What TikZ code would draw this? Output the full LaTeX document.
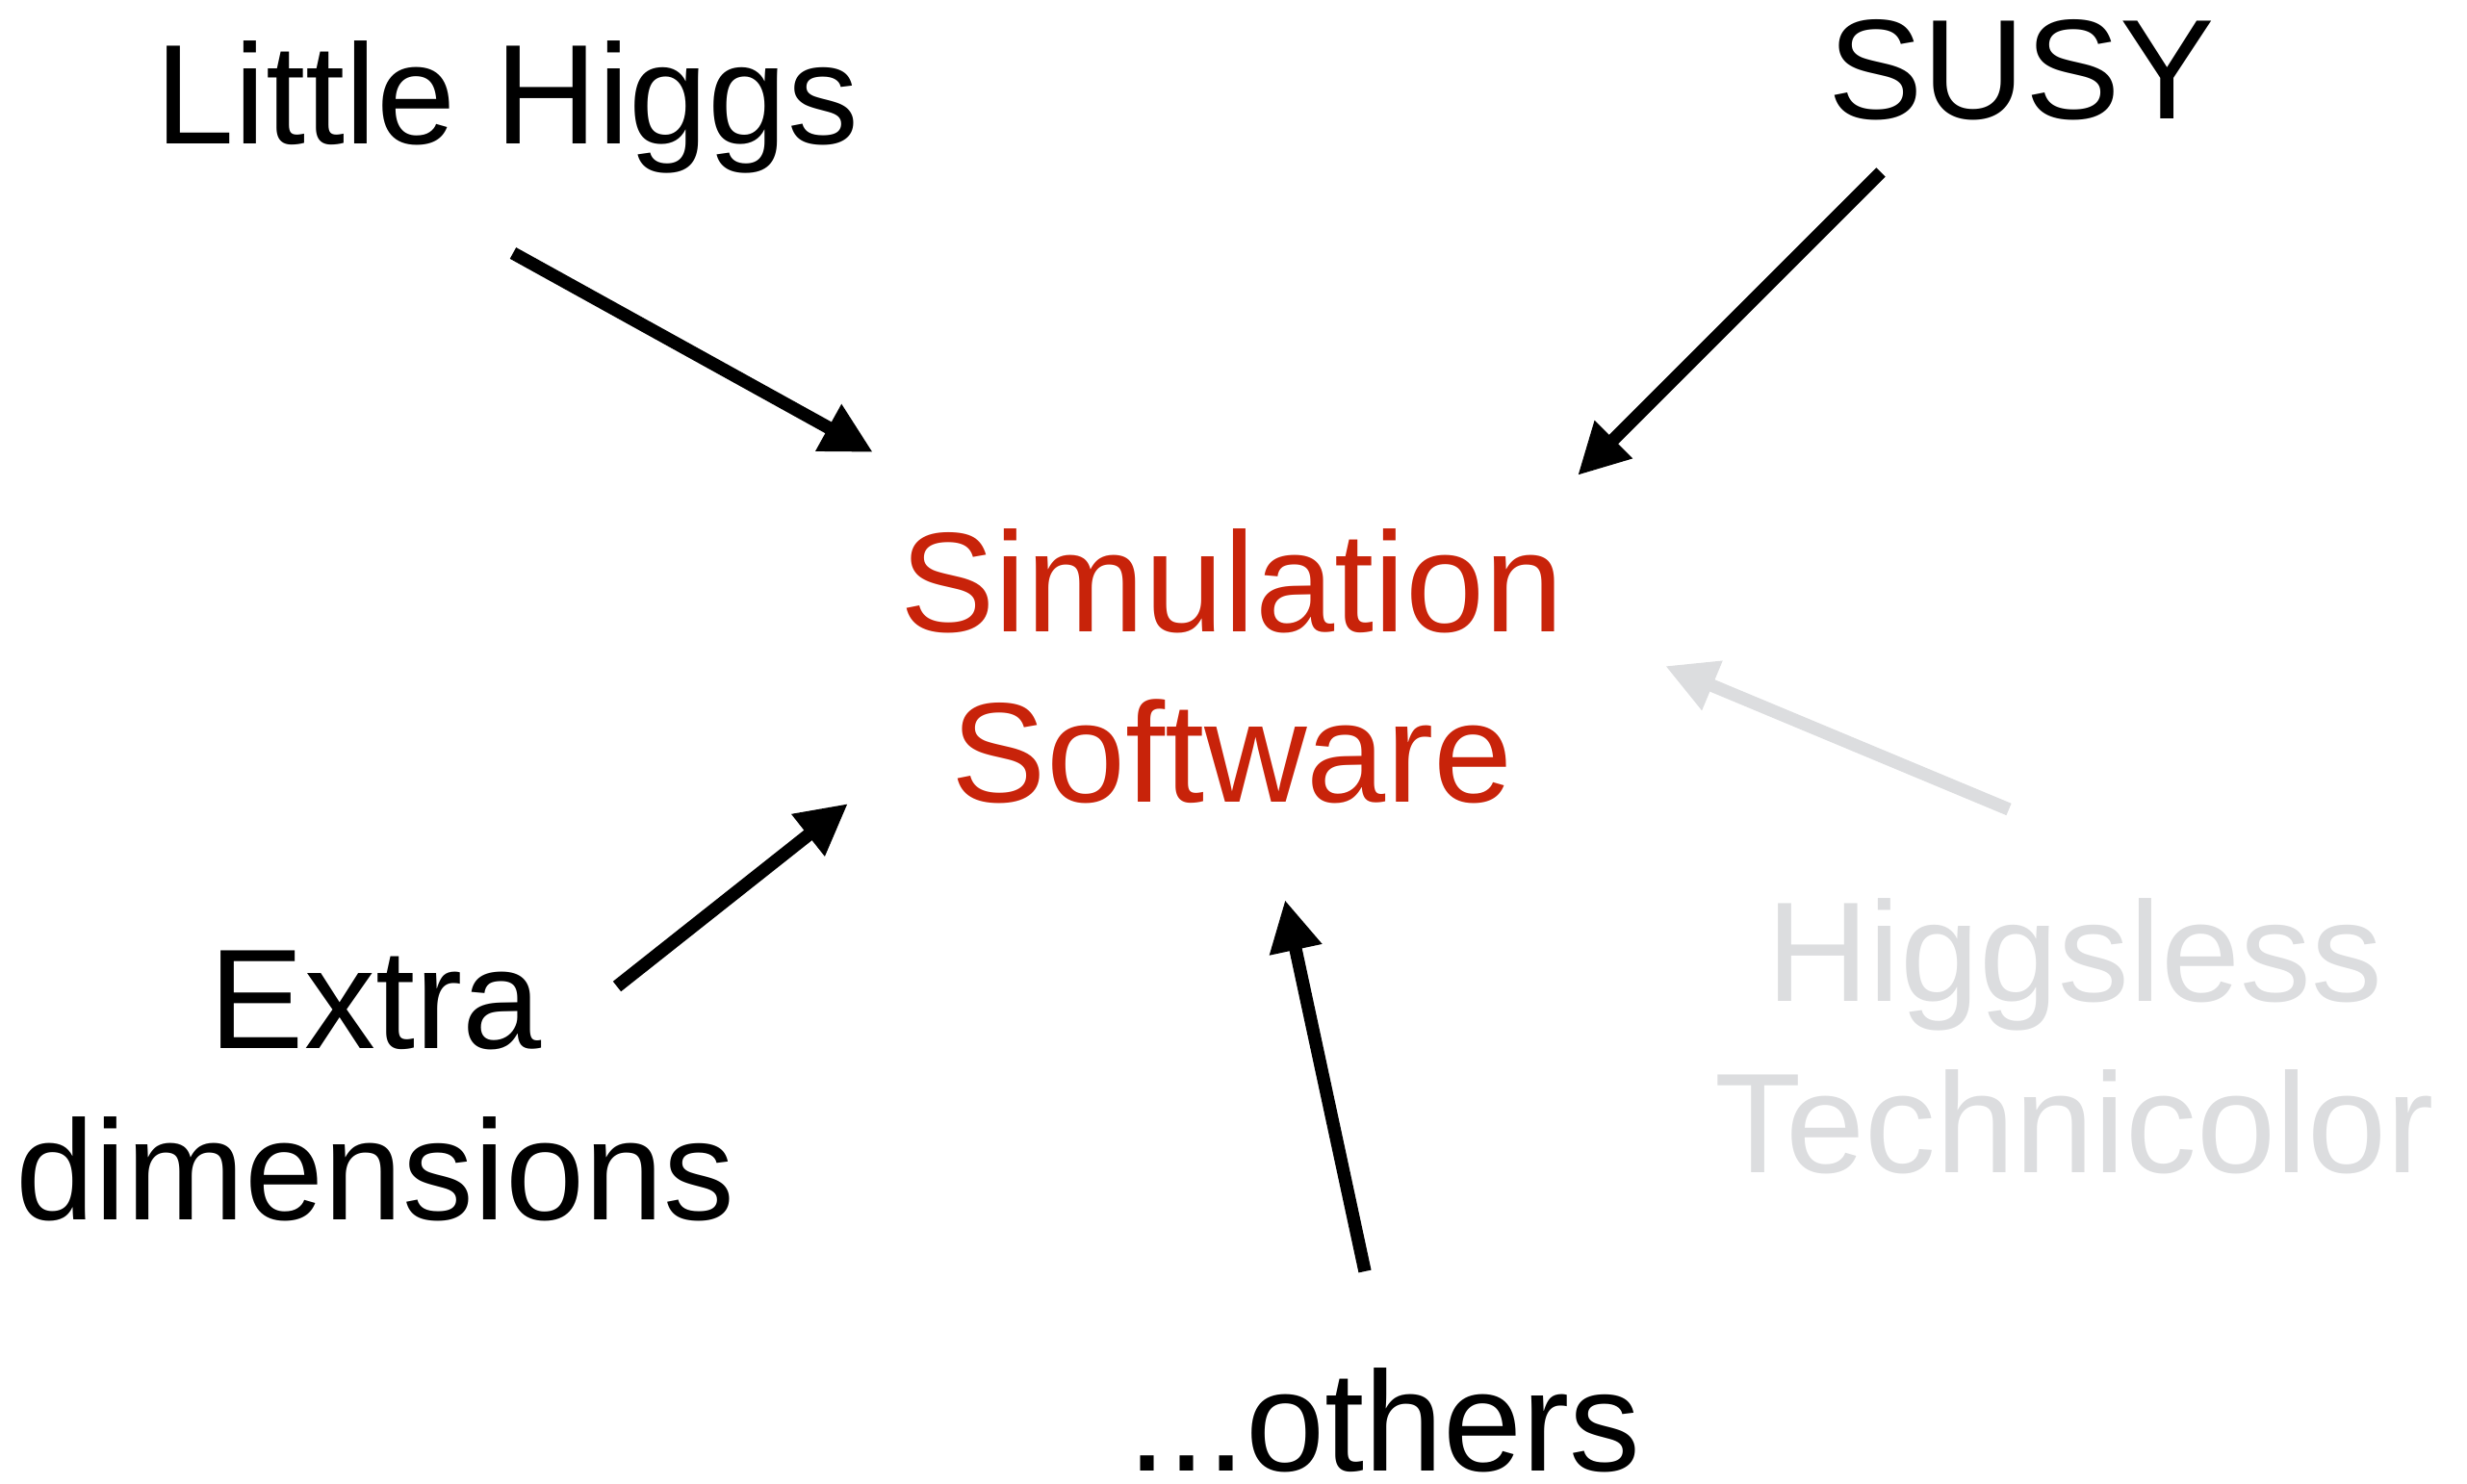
\documentclass[tikz,border=0pt]{standalone}
\usepackage{fontspec}
\setmainfont{Liberation Sans}
\usepackage{xcolor}
\usepackage{tikz}
\usetikzlibrary{arrows.meta}
\definecolor{simred}{HTML}{C8230A}
\definecolor{fadegray}{HTML}{DCDDDF}
\tikzstyle{label} = [inner sep=0pt, anchor=base, align=center, font=\fontsize{42}{50.4}\selectfont]
\tikzstyle{arrow} = [line width=3.8pt, -{Triangle[length=5.3mm,width=5.2mm]}]

\begin{document}
\begin{tikzpicture}
   \useasboundingbox (0,0) rectangle (25.63,15.41);

   % two-line labels sit on their last baseline
   \node (sim) [label, text=simred] at (12.80,7.07) {Simulation\\Software};
   \node (lh) [label] at (5.27,13.91) {Little Higgs};
   \node (susy) [label] at (21.00,14.17) {SUSY};
   \node (extra) [label] at (3.90,2.74) {Extra\\dimensions};
   \node (hless) [label, text=fadegray] at (21.55,3.23) {Higgsless\\Technicolor};
   \node (others) [label] at (14.38,0.13) {...others};

   % arrow ends
   \coordinate (lh-from) at (5.33,12.78);
   \coordinate (lh-to) at (9.07,10.71);
   \coordinate (susy-from) at (19.54,13.62);
   \coordinate (susy-to) at (16.39,10.47);
   \coordinate (extra-from) at (6.41,5.16);
   \coordinate (extra-to) at (8.81,7.06);
   \coordinate (others-from) at (14.18,2.20);
   \coordinate (others-to) at (13.35,6.06);
   \coordinate (hless-from) at (20.87,7.00);
   \coordinate (hless-to) at (17.30,8.49);

   \draw [arrow] (lh-from) -- (lh-to);
   \draw [arrow] (susy-from) -- (susy-to);
   \draw [arrow] (extra-from) -- (extra-to);
   \draw [arrow] (others-from) -- (others-to);
   \draw [arrow, fadegray] (hless-from) -- (hless-to);
\end{tikzpicture}
\end{document}
